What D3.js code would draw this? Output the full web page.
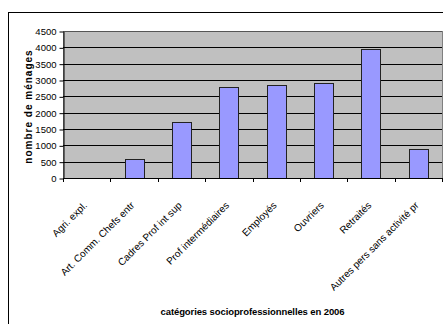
<!DOCTYPE html>
<html>
<head>
<meta charset="utf-8">
<script src="https://cdn.jsdelivr.net/npm/d3@7"></script>
<style>
  body { margin: 0; background: white; }
  text { font-family: Arial, "Liberation Sans", sans-serif; }
</style>
</head>
<body>
<svg id="chart" width="443" height="324"></svg>
<script>
var WIDTH = 443;
var HEIGHT = 324;

// last label is cut short in the original chart
var categories = ["Agri. expl.", "Art. Comm. Chefs entr", "Cadres Prof int sup", "Prof intermédiaires",
    "Employés", "Ouvriers", "Retraités", "Autres pers sans activité pr"];
var menages = [0, 570, 1700, 2800, 2850, 2900, 3950, 900];
var yTicks = [0, 500, 1000, 1500, 2000, 2500, 3000, 3500, 4000, 4500];

var plot = { left: 63, top: 31, right: 442, bottom: 178 };

var svg = d3.select('#chart');

// outer chart frame
svg.append('rect')
    .attr('x', 8.5).attr('y', 12.5)
    .attr('width', 440).attr('height', 320)
    .style('fill', 'white')
    .style('stroke', 'black')
    .style('stroke-width', 1)

var xBand = d3.scaleBand()
    .domain(categories)
    .range([plot.left, plot.right])

var y = d3.scaleLinear()
    .domain([0, 4500])
    .range([plot.bottom, plot.top])

// plot area
svg.append('rect')
    .attr('x', plot.left + 0.5).attr('y', plot.top + 0.5)
    .attr('width', plot.right - plot.left)
    .attr('height', plot.bottom - plot.top)
    .style('fill', '#c0c0c0')
    .style('stroke', '#808080')

// gridlines
svg.append('g')
    .selectAll('line')
    .data(yTicks.slice(1))
    .enter().append('line')
    .attr('x1', plot.left).attr('x2', plot.right)
    .attr('y1', d => Math.round(y(d)) + 0.5)
    .attr('y2', d => Math.round(y(d)) + 0.5)
    .attr('stroke', d => d == 4500 ? '#555' : 'black')
    .attr('stroke-width', 1)

// bars
svg.append('g')
    .selectAll('rect')
    .data(menages)
    .enter().append('rect')
    .attr('x', (d, i) => Math.round(xBand(categories[i]) + xBand.bandwidth() / 2 - 9.5) + 0.5)
    .attr('width', 19)
    .attr('y', d => Math.round(y(d)) + 0.5)
    .attr('height', d => plot.bottom - Math.round(y(d)))
    .attr('fill', d => d > 0 ? '#9999ff' : 'none')
    .attr('stroke', d => d > 0 ? '#222' : 'none')
    .attr('stroke-width', 1)

// y axis
var yAxis = d3.axisLeft(y)
    .tickValues(yTicks)
    .tickFormat(d3.format('d'))
    .tickSize(4)
    .tickSizeOuter(0)
    .tickPadding(3)

svg.append('g')
    .attr('transform', 'translate(' + (plot.left + 0.5) + ',0.5)')
    .call(yAxis)
    .call(g => g.selectAll('text').style('font-size', '9.5px').attr('fill', 'black'))
    .call(g => g.select('.domain').attr('stroke', 'black'))

// x axis: ticks between categories
var xBoundaries = categories.map(c => xBand(c)).concat([plot.right]);
var xAxisG = svg.append('g')
xAxisG.append('line')
    .attr('x1', plot.left).attr('x2', plot.right)
    .attr('y1', plot.bottom + 0.5).attr('y2', plot.bottom + 0.5)
    .attr('stroke', 'black')
xAxisG.selectAll('line.tick')
    .data(xBoundaries)
    .enter().append('line')
    .attr('class', 'tick')
    .attr('x1', d => Math.round(d) + 0.5).attr('x2', d => Math.round(d) + 0.5)
    .attr('y1', plot.bottom).attr('y2', plot.bottom + 4)
    .attr('stroke', 'black')

xAxisG.append('g')
    .selectAll('text')
    .data(categories)
    .enter().append('text')
    .attr('transform', d => 'translate(' + (xBand(d) + xBand.bandwidth() / 2 + 1) + ',' + (plot.bottom + 28) + ') rotate(-45)')
    .attr('text-anchor', 'end')
    .style('font-size', '10px')
    .text(d => d)

// axis titles
svg.append('text')
    .attr('transform', 'translate(32,' + ((plot.top + plot.bottom) / 2 + 2) + ') rotate(-90)')
    .attr('text-anchor', 'middle')
    .style('font-size', '10px')
    .style('font-weight', 'bold')
    .style('letter-spacing', '1px')
    .text('nombre de ménages')

svg.append('text')
    .attr('x', (plot.left + plot.right) / 2)
    .attr('y', 315)
    .attr('text-anchor', 'middle')
    .style('font-size', '9.5px')
    .style('font-weight', 'bold')
    .style('letter-spacing', '-0.1px')
    .text('catégories socioprofessionnelles en 2006')
</script>
</body>
</html>
